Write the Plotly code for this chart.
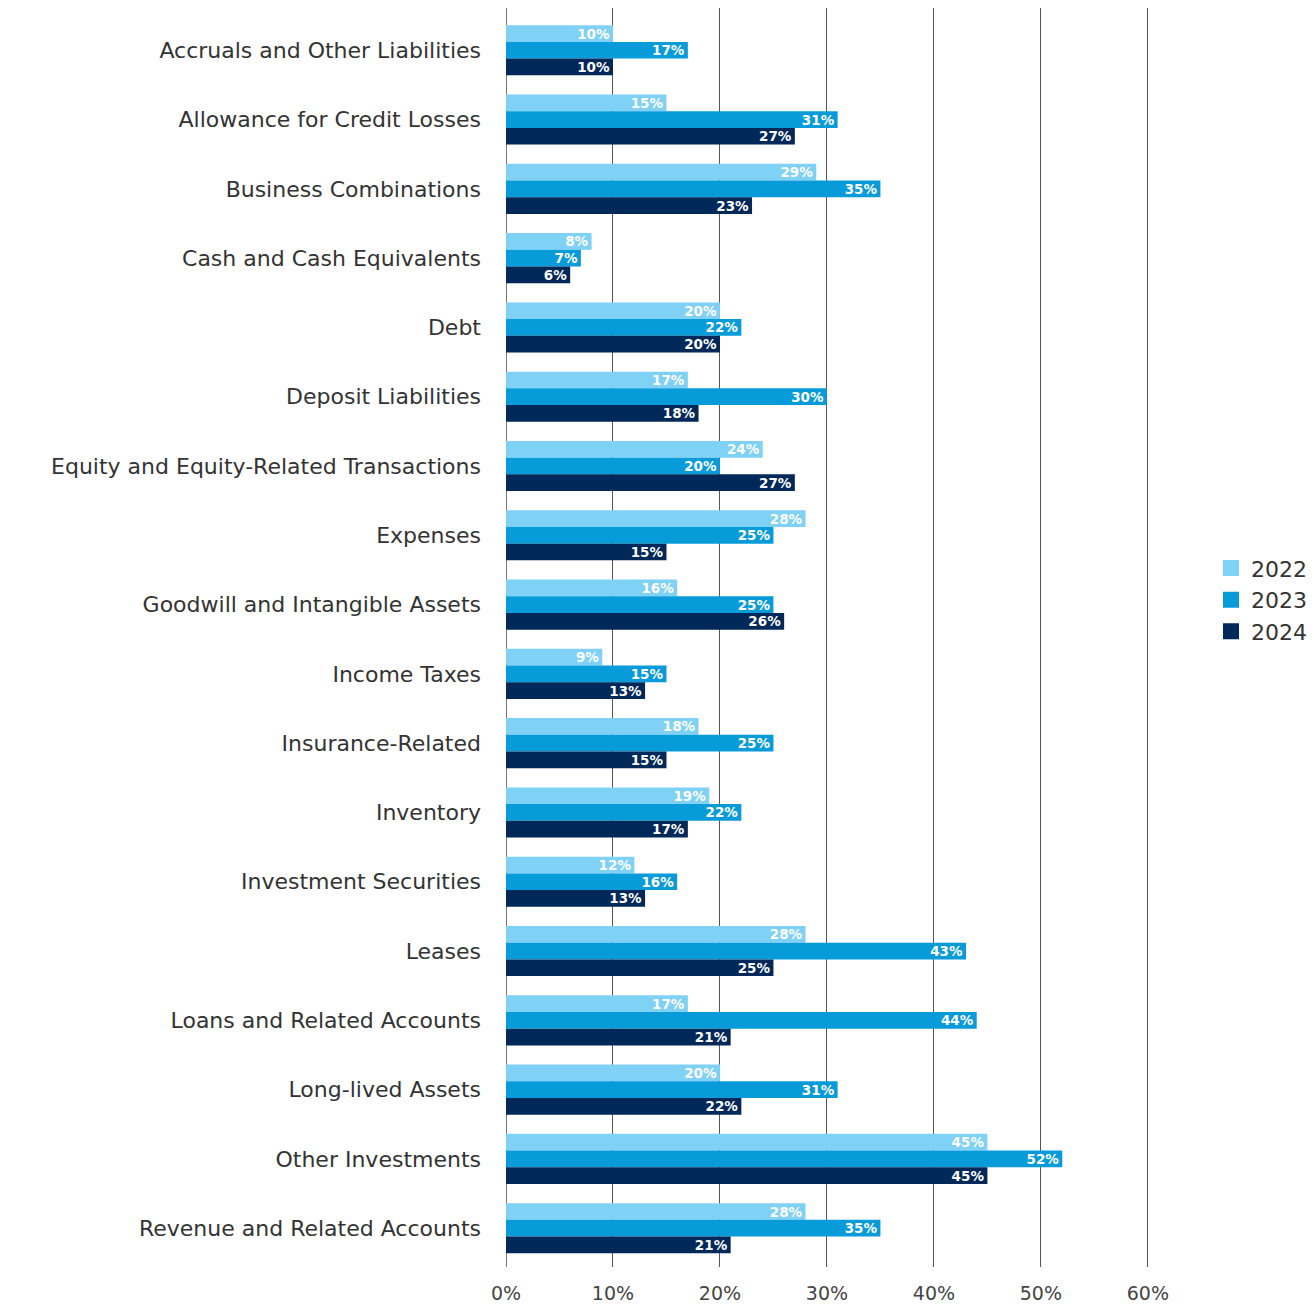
import plotly.graph_objects as go

categories = [
    "Accruals and Other Liabilities",
    "Allowance for Credit Losses",
    "Business Combinations",
    "Cash and Cash Equivalents",
    "Debt",
    "Deposit Liabilities",
    "Equity and Equity-Related Transactions",
    "Expenses",
    "Goodwill and Intangible Assets",
    "Income Taxes",
    "Insurance-Related",
    "Inventory",
    "Investment Securities",
    "Leases",
    "Loans and Related Accounts",
    "Long-lived Assets",
    "Other Investments",
    "Revenue and Related Accounts",
]

values_2022 = [10, 15, 29, 8, 20, 17, 24, 28, 16, 9, 18, 19, 12, 28, 17, 20, 45, 28]
values_2023 = [17, 31, 35, 7, 22, 30, 20, 25, 25, 15, 25, 22, 16, 43, 44, 31, 52, 35]
values_2024 = [10, 27, 23, 6, 20, 18, 27, 15, 26, 13, 15, 17, 13, 25, 21, 22, 45, 21]

series = [
    ("2022", values_2022, "#7fd1f6"),
    ("2023", values_2023, "#079bda"),
    ("2024", values_2024, "#002859"),
]

x_ticks = [0, 10, 20, 30, 40, 50, 60]
x_tick_labels = [f"{t}%" for t in x_ticks]

FONT = "DejaVu Sans"

fig = go.Figure()
for name, vals, color in series:
    fig.add_trace(go.Bar(
        name=name,
        y=categories,
        x=vals,
        orientation="h",
        marker=dict(color=color, line=dict(width=0)),
        text=[f"{v}%" for v in vals],
        textposition="inside",
        insidetextanchor="end",
        textangle=0,
        textfont=dict(family=FONT, size=13.5, color="white", weight="bold"),
        showlegend=False,
    ))

# Legend entries drawn as larger square swatches
for name, vals, color in series:
    fig.add_trace(go.Scatter(
        name=name,
        x=[None],
        y=[None],
        mode="markers",
        marker=dict(symbol="square", size=18, color=color),
        showlegend=True,
    ))

fig.update_layout(
    width=1314,
    height=1307,
    barmode="group",
    bargap=0.277,
    bargroupgap=0,
    plot_bgcolor="white",
    paper_bgcolor="white",
    margin=dict(l=506, r=164, t=8, b=40, autoexpand=False),
    font=dict(family=FONT, color="#333333"),
    uniformtext=dict(minsize=13, mode="show"),
    legend=dict(
        xref="container", x=1211 / 1314, xanchor="left",
        y=0.53, yanchor="middle",
        font=dict(family=FONT, size=22, color="#333333"),
        itemwidth=30,
        tracegroupgap=0,
    ),
    xaxis=dict(
        range=[0, 60.2],
        tickvals=x_ticks,
        ticktext=x_tick_labels,
        showgrid=True,
        gridcolor="#555555",
        gridwidth=1,
        zeroline=True,
        zerolinecolor="#777777",
        zerolinewidth=1,
        showline=False,
        ticks="",
        tickfont=dict(family=FONT, size=19, color="#444444"),
        ticklabelstandoff=13,
    ),
    yaxis=dict(
        categoryorder="array",
        categoryarray=categories,
        autorange=False,
        range=[17.56, -0.61],
        showgrid=False,
        zeroline=False,
        showline=False,
        ticks="",
        tickfont=dict(family=FONT, size=22, color="#333333"),
        ticklabelstandoff=24,
    ),
)

fig.write_html("out.html")
